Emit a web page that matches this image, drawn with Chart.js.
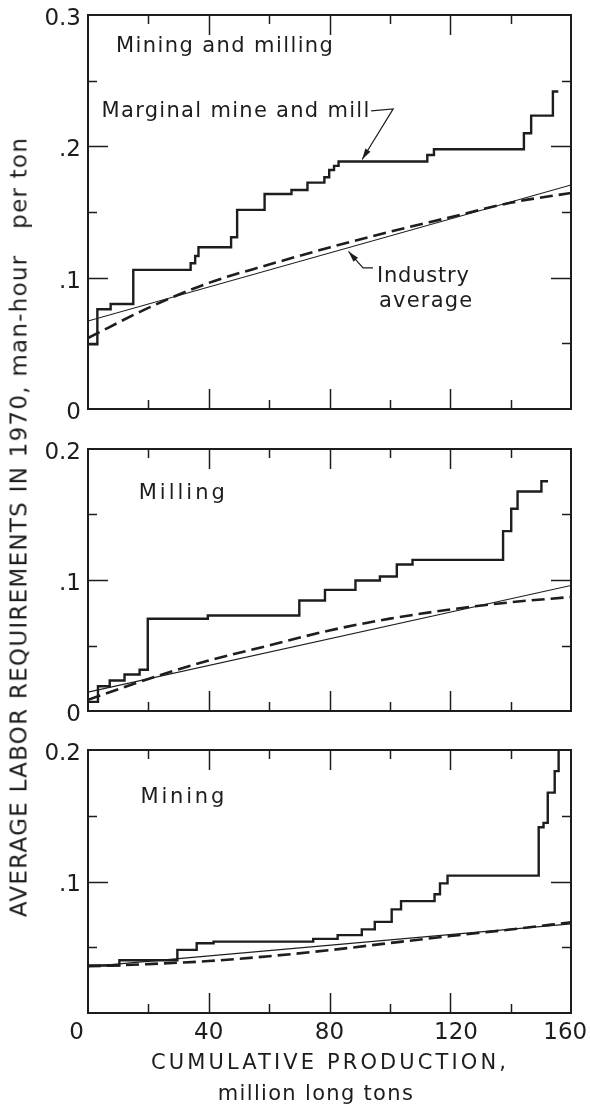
<!DOCTYPE html>
<html>
<head>
<meta charset="utf-8">
<script src="https://cdn.jsdelivr.net/npm/chart.js@4.4.1/dist/chart.umd.min.js"></script>
<style>
  html, body { margin: 0; padding: 0; background: #fff; }
  body { width: 590px; height: 1105px; position: relative; overflow: hidden; color: #1d1d1d;
         font-family: "DejaVu Sans", "Noto Sans", sans-serif; }
  canvas { position: absolute; left: 0; }
  .title { position: absolute; left: 0; top: 0; white-space: pre; line-height: 1; transform-origin: 0 0; }
</style>
</head>
<body>
<canvas id="c1" width="590" height="440" style="top:0"></canvas>
<canvas id="c2" width="590" height="300" style="top:440px"></canvas>
<canvas id="c3" width="590" height="365" style="top:740px"></canvas>
<div class="title" id="ytitle">AVERAGE LABOR REQUIREMENTS IN 1970, man-hour   per ton</div>
<div class="title" id="xtitle1">CUMULATIVE PRODUCTION,</div>
<div class="title" id="xtitle2">million long tons</div>
<script>
const INK = '#1d1d1d';
const FONT = '"DejaVu Sans", "Noto Sans", sans-serif';

// x of the smooth industry-average curves, and of the straight fitted lines
const curveX = [0, 20, 40, 60, 80, 100, 120, 140, 160];
const fitX = [0, 160];
// bottom tick labels (the lettering sits a little off some ticks in the figure)
const xTickLabels = ['0\u2003', '40', '80', '\u2002120', '160\u2002'];

// Mining and milling: marginal mine and mill (step starts at x, rises to y)
const mmStepX = [0.2, 3.1, 7.5, 15.0, 34.0, 35.5, 36.6, 47.4, 49.4, 58.5, 67.4, 72.7, 78.3, 79.9, 81.5, 83.0,
                 112.4, 114.6, 144.4, 146.8, 154.0, 155.8];
const mmStepY = [0.0493, 0.0759, 0.0800, 0.1059, 0.1110, 0.1165, 0.1232, 0.1308, 0.1516, 0.1637, 0.1668, 0.1724,
                 0.1765, 0.1820, 0.1851, 0.1884, 0.1934, 0.1978, 0.2100, 0.2234, 0.2417, 0.2417];
const mmAvg = [0.054, 0.077, 0.096, 0.110, 0.123, 0.135, 0.146, 0.157, 0.1645];
const mmFit = [0.067, 0.1706];
const mmYLabels = ['0', '.1', '.2', '0.3'];

// Milling
const mlStepX = [0, 3.3, 7.2, 12.1, 17.1, 19.8, 39.7, 70.0, 78.5, 88.6, 96.7, 102.3, 107.5, 137.5, 140.2, 142.3,
                 150.2, 152.4];
const mlStepY = [0.0070, 0.0189, 0.0233, 0.0279, 0.0315, 0.0704, 0.0729, 0.0844, 0.0925, 0.0996, 0.1027, 0.1118,
                 0.1154, 0.1373, 0.1544, 0.1676, 0.1754, 0.1754];
const mlAvg = [0.0085, 0.0245, 0.0385, 0.050, 0.0615, 0.0705, 0.0775, 0.083, 0.087];
const mlFit = [0.0144, 0.0958];
const mlYLabels = ['0', '.1', '0.2'];

// Mining
const mnStepX = [0, 10.4, 29.6, 36.0, 41.6, 74.6, 82.7, 90.7, 95.0, 100.6, 103.7, 114.8, 116.6, 119.1, 149.3,
                 150.9, 152.3, 154.6, 155.9];
const mnStepY = [0.0361, 0.0401, 0.0480, 0.0530, 0.0543, 0.0564, 0.0592, 0.0636, 0.0693, 0.0788, 0.0851, 0.0903,
                 0.0986, 0.1045, 0.1413, 0.1446, 0.1676, 0.1839, 0.2000];
const mnAvg = [0.0355, 0.0372, 0.0395, 0.0432, 0.0478, 0.0532, 0.0585, 0.0635, 0.069];
const mnFit = [0.0353, 0.0678];
const mnYLabels = ['', '.1', '0.2'];

const pts = (xs, ys) => xs.map((x, i) => ({ x, y: ys[i] }));

// frame, inward tick marks, panel lettering and leader arrows
const frameTicks = {
  id: 'frameTicks',
  afterDatasetsDraw(chart, args, opts) {
    const { ctx, chartArea: a } = chart;
    const sx = chart.scales.x, sy = chart.scales.y;
    ctx.save();
    ctx.strokeStyle = INK;
    ctx.fillStyle = INK;
    ctx.lineWidth = 1.5;
    ctx.beginPath();
    for (let v = 20; v < 160; v += 20) {
      const px = Math.round(sx.getPixelForValue(v)) + 0.5;
      const len = v % 40 === 0 ? 20 : 9;
      ctx.moveTo(px, a.top); ctx.lineTo(px, a.top + len);
      ctx.moveTo(px, a.bottom); ctx.lineTo(px, a.bottom - len);
    }
    for (let k = 1; k * 0.05 < opts.yMax - 0.001; k++) {
      const py = Math.round(sy.getPixelForValue(k * 0.05)) + 0.5;
      const len = k % 2 === 0 ? 20 : 9;
      ctx.moveTo(a.left, py); ctx.lineTo(a.left + len, py);
      ctx.moveTo(a.right, py); ctx.lineTo(a.right - len, py);
    }
    ctx.stroke();
    ctx.lineWidth = 2;
    ctx.strokeRect(a.left, a.top, a.right - a.left, a.bottom - a.top);

    ctx.font = '21px ' + FONT;
    ctx.textBaseline = 'middle';
    ctx.textAlign = 'left';
    (opts.notes || []).forEach(n => {
      ctx.letterSpacing = n.ls + 'px';
      ctx.fillText(n.text, sx.getPixelForValue(n.x), sy.getPixelForValue(n.y));
    });
    ctx.letterSpacing = '0px';

    ctx.lineWidth = 1.2;
    (opts.leaders || []).forEach(l => {
      const p = l.map(([x, y]) => [sx.getPixelForValue(x), sy.getPixelForValue(y)]);
      ctx.beginPath();
      p.forEach(([x, y], i) => i ? ctx.lineTo(x, y) : ctx.moveTo(x, y));
      ctx.stroke();
      const [tx, ty] = p[p.length - 1], [bx, by] = p[p.length - 2];
      const d = Math.hypot(tx - bx, ty - by), ux = (tx - bx) / d, uy = (ty - by) / d;
      ctx.beginPath();
      ctx.moveTo(tx, ty);
      ctx.lineTo(tx - ux * 11 - uy * 3, ty - uy * 11 + ux * 3);
      ctx.lineTo(tx - ux * 11 + uy * 3, ty - uy * 11 - ux * 3);
      ctx.closePath();
      ctx.fill();
    });
    ctx.restore();
  }
};

function makePanel(id, p) {
  return new Chart(document.getElementById(id), {
    type: 'line',
    data: {
      datasets: [{
        label: 'Marginal',
        data: pts(p.stepX, p.stepY),
        stepped: 'before',
        borderColor: INK,
        borderWidth: 2.4,
        pointRadius: 0,
        fill: false
      }, {
        label: 'Industry average',
        data: pts(curveX, p.avg),
        borderColor: INK,
        borderWidth: 2.6,
        borderDash: [13, 6],
        cubicInterpolationMode: 'monotone',
        pointRadius: 0,
        fill: false
      }, {
        label: 'Fit',
        data: pts(fitX, p.fit),
        borderColor: INK,
        borderWidth: 1.1,
        pointRadius: 0,
        fill: false
      }]
    },
    options: {
      responsive: false,
      animation: false,
      events: [],
      layout: { padding: { top: p.top, right: 19, left: 0, bottom: 0 } },
      scales: {
        x: {
          type: 'linear', min: 0, max: 160,
          border: { display: false },
          grid: { display: false, drawTicks: false },
          ticks: {
            display: p.showX, stepSize: 40, padding: 6, maxRotation: 0, autoSkip: false,
            color: INK, font: { family: FONT, size: 23 },
            callback: (v, i) => xTickLabels[i]
          },
          afterFit: s => { s.height = p.xH; s.paddingLeft = 0; s.paddingRight = 0; }
        },
        y: {
          type: 'linear', min: 0, max: p.yMax,
          border: { display: false },
          grid: { display: false, drawTicks: false },
          ticks: {
            stepSize: 0.1, padding: 7, labelOffset: 4,
            color: INK, font: { family: FONT, size: 23 },
            callback: v => p.yLabels[Math.round(v * 10)]
          },
          afterFit: s => { s.width = 88; s.paddingTop = 0; s.paddingBottom = 0; }
        }
      },
      plugins: {
        legend: { display: false },
        tooltip: { enabled: false },
        frameTicks: { yMax: p.yMax, notes: p.notes, leaders: p.leaders }
      }
    },
    plugins: [frameTicks]
  });
}

makePanel('c1', {
  stepX: mmStepX, stepY: mmStepY, avg: mmAvg, fit: mmFit, yMax: 0.3, yLabels: mmYLabels,
  top: 15, xH: 31, showX: false,
  notes: [
    { text: 'Mining and milling', x: 9.3, y: 0.2757, ls: 1.4 },
    { text: 'Marginal mine and mill', x: 4.5, y: 0.2262, ls: 1.3 },
    { text: 'Industry', x: 95.7, y: 0.1005, ls: 0.8 },
    { text: 'average', x: 96.4, y: 0.0815, ls: 1.2 }
  ],
  leaders: [
    [[93.8, 0.2270], [101.1, 0.2285], [90.8, 0.1900]],
    [[94.4, 0.1074], [91.1, 0.1074], [86.3, 0.1200]]
  ]
});

makePanel('c2', {
  stepX: mlStepX, stepY: mlStepY, avg: mlAvg, fit: mlFit, yMax: 0.2, yLabels: mlYLabels,
  top: 9, xH: 29, showX: false,
  notes: [{ text: 'Milling', x: 16.8, y: 0.1658, ls: 3 }]
});

makePanel('c3', {
  stepX: mnStepX, stepY: mnStepY, avg: mnAvg, fit: mnFit, yMax: 0.2, yLabels: mnYLabels,
  top: 10, xH: 92, showX: true,
  notes: [{ text: 'Mining', x: 17.4, y: 0.164, ls: 2.8 }]
});

// axis titles: real text, spaced out to the lettering width of the figure
const meas = document.createElement('canvas').getContext('2d');
function placeTitle(id, size, width, cx, cy, rotate) {
  const el = document.getElementById(id);
  el.style.fontSize = size + 'px';
  meas.font = size + 'px ' + FONT;
  const w = meas.measureText(el.textContent).width;
  const ls = (width - w) / (el.textContent.length - 1);
  el.style.letterSpacing = ls + 'px';
  el.style.transform = 'translate(' + cx + 'px,' + cy + 'px)' + (rotate ? ' rotate(-90deg)' : '') +
    ' translate(-50%,-50%)';
}
placeTitle('ytitle', 23, 779, 19, 527, true);
placeTitle('xtitle1', 21, 355, 330, 1062, false);
placeTitle('xtitle2', 21, 195, 316, 1093, false);
</script>
</body>
</html>
